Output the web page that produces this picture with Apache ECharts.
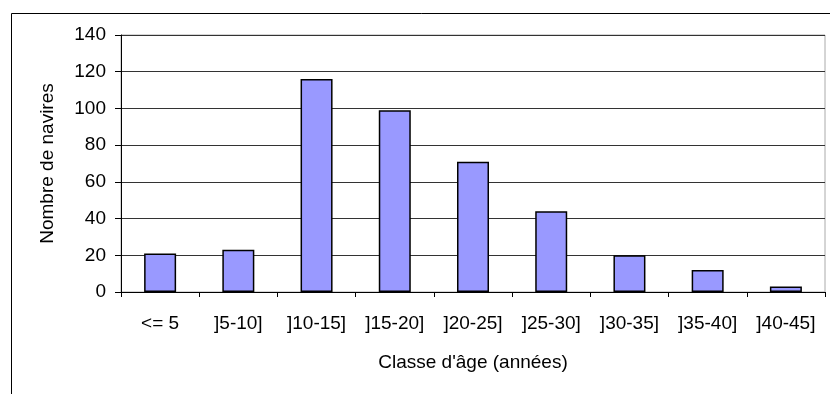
<!DOCTYPE html>
<html>
<head>
<meta charset="utf-8">
<script src="https://cdn.jsdelivr.net/npm/echarts@6/dist/echarts.min.js"></script>
<style>html,body{margin:0;padding:0;background:#fff}#c{width:830px;height:394px}</style>
</head>
<body>
<div id="c"></div>
<script>
var categories = ['<= 5', ']5-10]', ']10-15]', ']15-20]', ']20-25]', ']25-30]', ']30-35]', ']35-40]', ']40-45]'];
var shipCounts = [21, 23, 116, 99, 71, 44, 20, 12, 3];
var yMin = 0, yMax = 140, yStep = 20;
var xTitle = "Classe d'âge (années)";
var yTitle = 'Nombre de navires';

var chart = echarts.init(document.getElementById('c'), null, {renderer: 'canvas'});
var font = 'Liberation Sans, Arial, sans-serif';
chart.setOption({
  animation: false,
  backgroundColor: '#fff',
  graphic: [{
    type: 'rect', silent: true,
    shape: {x: 11.5, y: 13.5, width: 900, height: 500},
    style: {fill: 'none', stroke: '#000', lineWidth: 1}
  }],
  grid: {left: 121, right: 5, top: 35, bottom: 102, show: true, borderColor: '#aaa', borderWidth: 1, backgroundColor: 'transparent'},
  xAxis: {
    type: 'category',
    data: categories,
    name: xTitle,
    nameLocation: 'middle',
    nameGap: 61,
    nameTextStyle: {color: '#000', fontFamily: font, fontSize: 19},
    axisLine: {show: true, lineStyle: {color: '#000', width: 1}},
    axisTick: {show: true, length: 5, lineStyle: {color: '#000'}},
    axisLabel: {color: '#000', fontFamily: font, fontSize: 19, margin: 22, interval: 0},
    splitLine: {show: false}
  },
  yAxis: {
    type: 'value',
    min: yMin, max: yMax, interval: yStep,
    name: yTitle,
    nameLocation: 'middle',
    nameGap: 64,
    nameRotate: 90,
    nameTextStyle: {color: '#000', fontFamily: font, fontSize: 19},
    axisLine: {show: true, lineStyle: {color: '#000', width: 1}},
    axisTick: {show: true, length: 6, lineStyle: {color: '#000'}},
    axisLabel: {color: '#000', fontFamily: font, fontSize: 19, margin: 15},
    splitLine: {show: true, lineStyle: {color: '#333', width: 1}}
  },
  series: [{
    type: 'bar',
    data: shipCounts,
    barWidth: 32,
    itemStyle: {color: '#9999FF', borderColor: '#000', borderWidth: 1.5}
  }]
});
</script>
</body>
</html>
